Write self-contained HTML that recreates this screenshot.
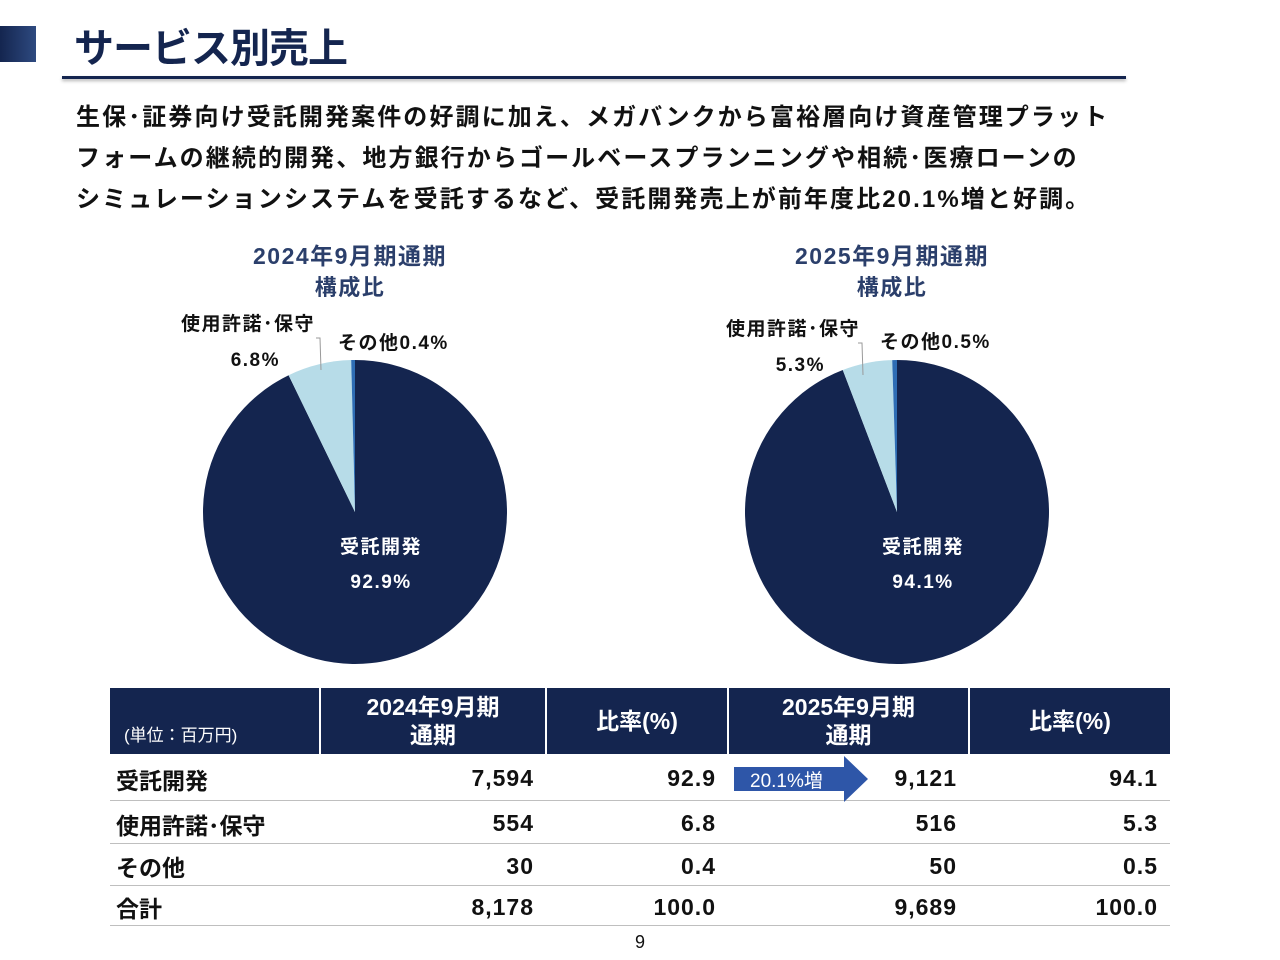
<!DOCTYPE html>
<html><head><meta charset="utf-8">
<style>
body{margin:0;width:1280px;height:960px;background:#fff;font-family:"Liberation Sans","Noto Sans CJK JP",sans-serif;position:relative;overflow:hidden}
.abs{position:absolute}
.b{font-weight:bold}
table{position:absolute;left:110px;top:688px;width:1060px;border-collapse:collapse;table-layout:fixed;font-family:"Liberation Sans","Noto Sans CJK JP",sans-serif}
th{background:#14254f;color:#fff;font-size:23px;font-weight:bold;height:66px;padding:0;border-left:2px solid #fff;line-height:28px;box-sizing:border-box}
th:first-child{border-left:none}
td{font-size:23px;font-weight:bold;color:#111;border-bottom:1px solid #bfbfbf;text-align:right;padding:4px 12px 0 0;letter-spacing:1px}
td:first-child{text-align:left;padding-left:6px;letter-spacing:0}
</style></head><body>
<div class="abs" style="left:0;top:26px;width:36px;height:36px;background:linear-gradient(90deg,#14254f,#2e4a80)"></div>
<div class="abs b" style="left:74px;top:16px;font-size:40px;color:#14254f;letter-spacing:-1px">サービス別売上</div>
<div class="abs" style="left:62px;top:76px;width:1064px;height:3px;background:#14254f;box-shadow:0 2px 3px rgba(0,0,0,.3)"></div>
<div class="abs b" style="left:76px;top:97px;font-size:24px;line-height:41px;color:#111;letter-spacing:2.1px;white-space:nowrap">生保･証券向け受託開発案件の好調に加え、メガバンクから富裕層向け資産管理プラット<br>フォームの継続的開発、地方銀行からゴールベースプランニングや相続･医療ローンの<br>シミュレーションシステムを受託するなど、受託開発売上が前年度比20.1%増と好調。</div>
<svg class="abs" style="left:0;top:0" width="1280" height="960">
<g id="g"></g>
</svg>
<table>
<colgroup><col style="width:210px"><col style="width:226px"><col style="width:182px"><col style="width:241px"><col style="width:201px"></colgroup>
<tr><th style="text-align:left;font-size:17px;font-weight:normal;vertical-align:bottom;padding:0 0 4px 14px">(単位：百万円)</th><th>2024年9月期<br>通期</th><th>比率(%)</th><th>2025年9月期<br>通期</th><th>比率(%)</th></tr>
<tr style="height:46px"><td>受託開発</td><td>7,594</td><td>92.9</td><td style="position:relative"><div class="abs" style="left:6px;top:2px;width:134px;height:46px"><svg width="134" height="46"><polygon points="0,11 110,11 110,0 134,23 110,46 110,35 0,35" fill="#2e56a8"/></svg><span class="abs" style="left:16px;top:10px;color:#fff;font-size:19px;font-weight:normal;letter-spacing:0">20.1%増</span></div>9,121</td><td>94.1</td></tr>
<tr style="height:43px"><td>使用許諾･保守</td><td>554</td><td>6.8</td><td>516</td><td>5.3</td></tr>
<tr style="height:42px"><td>その他</td><td>30</td><td>0.4</td><td>50</td><td>0.5</td></tr>
<tr style="height:40px"><td>合計</td><td>8,178</td><td>100.0</td><td>9,689</td><td>100.0</td></tr>
</table>
<div class="abs" style="left:635px;top:932px;font-size:18px;color:#111">9</div>
<script>
const categories=["受託開発","使用許諾･保守","その他"];
const values2024=[92.9,6.8,0.4];
const values2025=[94.1,5.3,0.5];
const colors=["#14254f","#b7dce8","#2e6db4"];
const NS="http://www.w3.org/2000/svg";
const g=document.getElementById('g');
function mk(t,a){const e=document.createElementNS(NS,t);for(const k in a)e.setAttribute(k,a[k]);g.appendChild(e);return e;}
function txt(x,y,s,size,fill,anchor,ls){const e=mk('text',{x:x,y:y,'font-size':size,'font-weight':'bold',fill:fill,'text-anchor':anchor||'middle','letter-spacing':ls||1.5,'font-family':'"Liberation Sans","Noto Sans CJK JP",sans-serif'});e.textContent=s;return e;}
function pie(cx,cy,r,vals,title,name,lbl){
  const tot=vals.reduce((a,b)=>a+b,0);let a0=0;
  vals.forEach((v,i)=>{const a1=a0+v/tot*2*Math.PI;
    const x0=cx+r*Math.sin(a0),y0=cy-r*Math.cos(a0),x1=cx+r*Math.sin(a1),y1=cy-r*Math.cos(a1);
    const p=mk('path',{d:`M${cx},${cy}L${x0},${y0}A${r},${r} 0 ${a1-a0>Math.PI?1:0} 1 ${x1},${y1}Z`,fill:colors[i]});
    
    
    a0=a1;});
  txt(cx-5,264,title,23,'#2b3f6b','middle',1.5);txt(cx-5,295,'構成比',22,'#2b3f6b','middle',1.5);
  txt(cx+26,553,categories[0],19,'#fff');txt(cx+26,588,vals[0].toFixed(1)+'%',19,'#fff');
  txt(lbl[0],lbl[1],categories[1],19,'#111');txt(lbl[0]+32,lbl[1]+36,vals[1].toFixed(1)+'%',19,'#111','end');
  txt(cx-17,lbl[2],categories[2]+vals[2].toFixed(1)+'%',19,'#111','start');
  mk('polyline',{points:`${lbl[3]},${lbl[1]+8} ${lbl[3]+4},${lbl[1]+8} ${lbl[3]+5},${lbl[1]+40}`,fill:'none',stroke:'#999','stroke-width':1});
}
pie(355,512,152,values2024,'2024年9月期通期','pie-2024',[248,330,349,316]);
pie(897,512,152,values2025,'2025年9月期通期','pie-2025',[793,335,348,858]);
</script>
</body></html>
